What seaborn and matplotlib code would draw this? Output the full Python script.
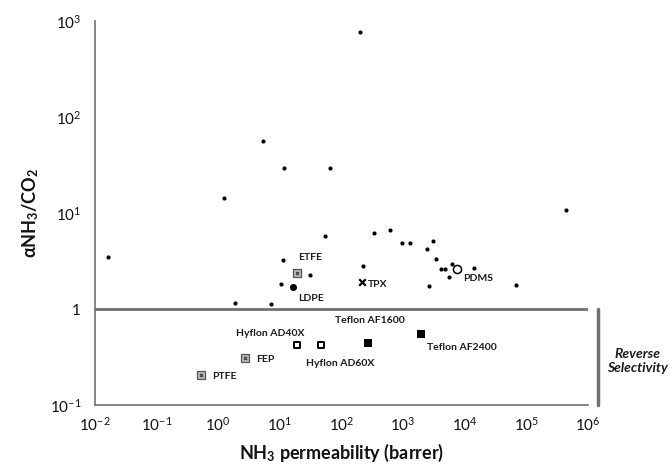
"""NH3/CO2 selectivity vs NH3 permeability."""
import matplotlib
matplotlib.use("Agg")
import matplotlib.pyplot as plt
from matplotlib.ticker import LogLocator, FuncFormatter, NullFormatter
import seaborn as sns
import pandas as pd
import numpy as np

# Unlabelled literature polymers (small dots)
dot_perm = [0.0163, 1.24, 5.3, 11.7, 65, 54, 200, 4.4e5, 338, 615,
            11.3, 31, 10.4, 1.87, 7.2, 963, 1300, 3070, 2450, 3440,
            4140, 4810, 6240, 14200, 5580, 2640, 68200, 224]
dot_sel = [3.48, 14.3, 56, 29.4, 29.4, 5.75, 768, 10.7, 6.2, 6.65,
           3.24, 2.26, 1.82, 1.155, 1.13, 4.87, 4.87, 5.1, 4.22, 3.32,
           2.61, 2.61, 2.94, 2.67, 2.15, 1.74, 1.78, 2.8]

# Labelled materials
names = ["ETFE", "LDPE", "TPX", "PDMS", "Hyflon AD40X", "Hyflon AD60X",
         "FEP", "PTFE", "Teflon AF1600", "Teflon AF2400"]
perm = [19, 16.4, 216, 7540, 19, 46.7, 2.72, 0.526, 270, 1960]
sel = [2.37, 1.70, 1.91, 2.61, 0.42, 0.42, 0.309, 0.205, 0.443, 0.549]
kind = ["grey_sq", "big_dot", "cross", "open_circle", "open_sq", "open_sq",
        "grey_sq", "grey_sq", "black_sq", "black_sq"]

# label placement (offset in points, alignment)
label_pos = {
  "ETFE": (0.7, 11.5, "left"),
  "LDPE": (3.6, -8, "left"),
  "TPX": (4.3, -2, "left"),
  "PDMS": (4.3, -7, "left"),
  "Hyflon AD40X": (-19, 8.6, "center"),
  "Hyflon AD60X": (-11, -13, "left"),
  "FEP": (8, -0.7, "left"),
  "PTFE": (8, -0.7, "left"),
  "Teflon AF1600": (-24, 16.5, "left"),
  "Teflon AF2400": (4.3, -10, "left"),
}

sns.set_style("white")
plt.rcParams["font.family"] = ["Lato", "DejaVu Sans"]
plt.rcParams["mathtext.fontset"] = "custom"
plt.rcParams["mathtext.rm"] = "Lato"
plt.rcParams["mathtext.it"] = "Lato:italic"
plt.rcParams["mathtext.bf"] = "Lato:bold"

fig = plt.figure(figsize=(6.72, 4.71), dpi=100)
ax = fig.add_axes([0.1414, 0.140, 0.7336, 0.815])

dots = pd.DataFrame({"perm": dot_perm, "sel": dot_sel})
mats = pd.DataFrame({"name": names, "perm": perm, "sel": sel, "kind": kind})

sns.scatterplot(data=dots, x="perm", y="sel", color="black", s=9,
                linewidth=0, ax=ax, zorder=3)

styles = {
  "big_dot": dict(marker="o", s=26, color="black", linewidth=0),
  "cross": dict(marker="x", s=22, color="black", linewidth=1.6),
  "open_circle": dict(marker="o", s=34, facecolor="white", edgecolor="black",
                      linewidth=1.1),
  "open_sq": dict(marker="s", s=24, facecolor="white", edgecolor="black",
                  linewidth=1.4),
  "black_sq": dict(marker="s", s=28, color="black", linewidth=0),
  "grey_sq": dict(marker="s", s=30, facecolor="#bdbdbd", edgecolor="#555555",
                  linewidth=0.9),
}
for k, st in styles.items():
  sub = mats[mats["kind"] == k]
  sns.scatterplot(data=sub, x="perm", y="sel", ax=ax, zorder=4, **st)
  if k == "grey_sq":
    # small cross inside the grey squares
    sns.scatterplot(data=sub, x="perm", y="sel", ax=ax, zorder=5,
                    marker="x", s=5, color="#333333", linewidth=0.8)

for _, row in mats.iterrows():
  dx, dy, ha = label_pos[row["name"]]
  ax.annotate(row["name"], (row["perm"], row["sel"]), xytext=(dx, dy),
              textcoords="offset points", ha=ha, va="center",
              fontsize=7.5, fontweight="bold", color="#1a1a1a")

# selectivity = 1 line and reverse-selectivity bracket
ax.plot([1e-2, 1e6], [1, 1], color="#707070", lw=2, zorder=2)
ax.plot([1.47e6, 1.47e6], [0.1, 1], color="#707070", lw=2.5,
        clip_on=False, zorder=2)
ax.text(1.101, 0.1146, "Reverse\nSelectivity", transform=ax.transAxes,
        ha="center", va="center", fontsize=10, fontweight="bold",
        style="italic", color="#1a1a1a", linespacing=1.2)

# Axes formatting
ax.set_xscale("log")
ax.set_yscale("log")
ax.set_xlim(1e-2, 1e6)
ax.set_ylim(1e-1, 1e3)

def pow_label(v, axis):
  """Power-of-ten tick labels, plain 1 for unity on y."""
  p = int(round(np.log10(v)))
  if p == 0 and axis == "y":
    return "1"
  return f"$10^{{{p}}}$"

ax.xaxis.set_major_locator(LogLocator(base=10, numticks=20))
ax.yaxis.set_major_locator(LogLocator(base=10, numticks=20))
ax.xaxis.set_major_formatter(FuncFormatter(lambda v, _: pow_label(v, "x")))
ax.yaxis.set_major_formatter(FuncFormatter(lambda v, _: pow_label(v, "y")))
ax.xaxis.set_minor_formatter(NullFormatter())
ax.yaxis.set_minor_formatter(NullFormatter())

for side in ["top", "right"]:
  ax.spines[side].set_visible(False)
for side in ["left", "bottom"]:
  ax.spines[side].set_color("#707070")
  ax.spines[side].set_linewidth(1.2)

ax.tick_params(axis="both", which="major", direction="inout", length=4,
               color="#707070", labelsize=11, labelcolor="#111111")
ax.tick_params(axis="both", which="minor", direction="inout", length=2.5,
               color="#909090")
ax.tick_params(axis="x", which="major", pad=6)
ax.tick_params(axis="y", which="major", pad=8)

ax.set_xlabel("NH$_\\mathbf{3}$ permeability (barrer)", fontsize=13,
              fontweight="bold", color="#111111", labelpad=6)
ax.set_ylabel("αNH$_\\mathbf{3}$/CO$_\\mathbf{2}$", fontsize=13,
              fontweight="bold", color="#111111", labelpad=6)

fig.savefig("out.png", dpi=100)
